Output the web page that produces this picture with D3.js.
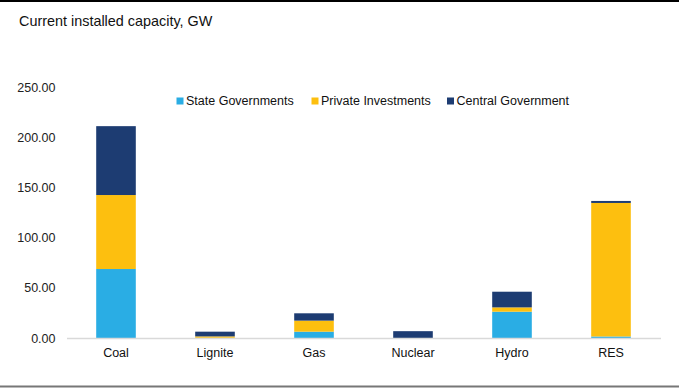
<!DOCTYPE html>
<html>
<head>
  <meta charset="utf-8">
  <title>Current installed capacity</title>
  <style>
    body { margin: 0; background: #fff; }
    svg { display: block; font-family: "Liberation Sans", Arial, sans-serif; }
  </style>
</head>
<body>
  <svg></svg>
  <script src="https://d3js.org/d3.v7.min.js"></script>
  <script>
    const width = 679;
    const height = 388;

    const categories = ["Coal", "Lignite", "Gas", "Nuclear", "Hydro", "RES"];
    const seriesNames = ["State Governments", "Private Investments", "Central Government"];
    const stateGov = [68.7, 0.1, 6.3, 0, 26.2, 1.5];
    const privateInv = [73.7, 1.5, 11.0, 0, 4.3, 133.0];
    const centralGov = [68.6, 4.7, 7.3, 6.8, 15.6, 2.0];
    const yTicks = [0, 50, 100, 150, 200, 250];
    const colors = ["#2AADE4", "#FDBF0F", "#1D3C72"];

    const data = categories.map((c, i) => ({
      category: c,
      [seriesNames[0]]: stateGov[i],
      [seriesNames[1]]: privateInv[i],
      [seriesNames[2]]: centralGov[i]
    }));

    const margin = { left: 66.5, right: 18.5, top: 87, bottom: 50 };

    const x = d3.scaleBand()
      .domain(categories)
      .range([margin.left, width - margin.right])
      .paddingInner(0.6)
      .paddingOuter(0.3);
    const y = d3.scaleLinear([0, 250], [338, 87]);
    const color = d3.scaleOrdinal(seriesNames, colors);

    const svg = d3.select("svg")
      .attr("width", width)
      .attr("height", height)
      .attr("viewBox", [0, 0, width, height]);

    // frame lines
    svg.append("line")
      .attr("x1", 0).attr("x2", width).attr("y1", 1).attr("y2", 1)
      .attr("stroke", "#000").attr("stroke-width", 2);
    svg.append("line")
      .attr("x1", 0).attr("x2", width).attr("y1", 386.5).attr("y2", 386.5)
      .attr("stroke", "#777").attr("stroke-width", 2);

    svg.append("text")
      .attr("x", 19).attr("y", 26)
      .attr("font-size", 14.4)
      .attr("fill", "#111")
      .text("Current installed capacity, GW");

    const stack = d3.stack().keys(seriesNames);
    const layers = stack(data);

    svg.append("g")
      .selectAll("g")
      .data(layers)
      .join("g")
      .attr("fill", d => color(d.key))
      .selectAll("rect")
      .data(d => d)
      .join("rect")
      .attr("x", d => x(d.data.category))
      .attr("width", x.bandwidth())
      .attr("y", d => y(d[1]))
      .attr("height", d => y(d[0]) - y(d[1]));

    // y axis labels
    const yAxis = svg.append("g")
      .attr("transform", `translate(${margin.left - 11},0)`)
      .call(d3.axisLeft(y).tickValues(yTicks).tickFormat(d3.format(".2f")).tickSize(0).tickPadding(0));
    yAxis.select(".domain").remove();
    yAxis.selectAll("text")
      .attr("font-size", 12.5)
      .attr("font-family", "Liberation Sans, Arial, sans-serif")
      .attr("fill", "#222");

    // x axis
    const xAxis = svg.append("g")
      .attr("transform", `translate(0,${y(0)})`)
      .call(d3.axisBottom(x).tickSize(0).tickPadding(10));
    xAxis.select(".domain")
      .attr("stroke", "#d9d9d9")
      .attr("stroke-width", 1.5);
    xAxis.selectAll("text")
      .attr("font-size", 12.5)
      .attr("font-family", "Liberation Sans, Arial, sans-serif")
      .attr("fill", "#111");

    // legend
    const legendX = [176.5, 311.5, 447];
    const legend = svg.append("g")
      .selectAll("g")
      .data(seriesNames)
      .join("g")
      .attr("transform", (d, i) => `translate(${legendX[i]},101)`);
    legend.append("rect")
      .attr("x", 0).attr("y", -3.5)
      .attr("width", 7).attr("height", 7)
      .attr("fill", d => color(d));
    legend.append("text")
      .attr("x", 9.5).attr("y", 0)
      .attr("dy", "0.35em")
      .attr("font-size", 12.5)
      .attr("fill", "#111")
      .text(d => d);
  </script>
</body>
</html>
